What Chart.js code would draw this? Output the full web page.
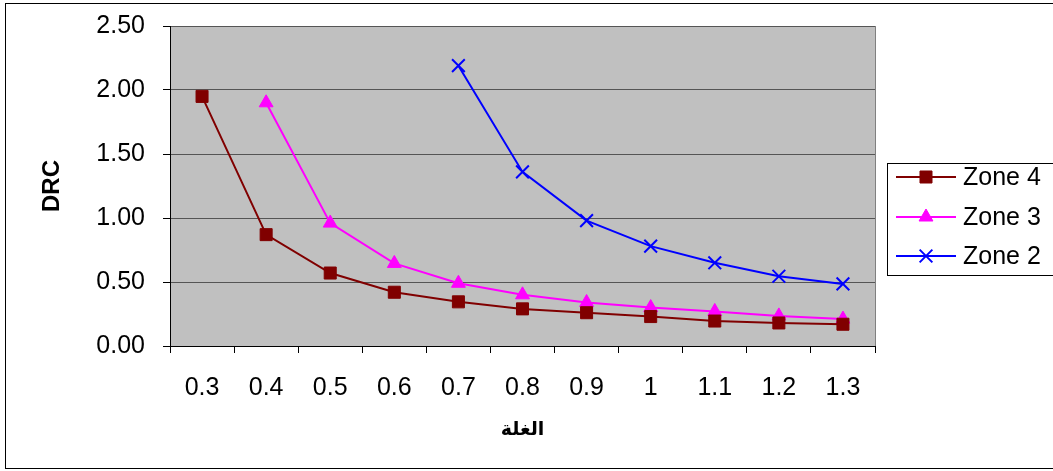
<!DOCTYPE html>
<html>
<head>
<meta charset="utf-8">
<script src="https://cdn.jsdelivr.net/npm/chart.js@4.4.0/dist/chart.umd.min.js"></script>
<style>
  html, body { margin: 0; padding: 0; background: #fff; }
  #wrap { width: 1053px; height: 471px; }
</style>
</head>
<body>
<div id="wrap"><canvas id="drcChart" width="1053" height="471"></canvas></div>
<script>
const categories = ["0.3", "0.4", "0.5", "0.6", "0.7", "0.8", "0.9", "1", "1.1", "1.2", "1.3"];
const zone4 = [1.95, 0.87, 0.57, 0.42, 0.345, 0.29, 0.26, 0.23, 0.195, 0.18, 0.17];
const zone3 = [null, 1.90, 0.96, 0.645, 0.49, 0.40, 0.34, 0.30, 0.27, 0.235, 0.21];
const zone2 = [null, null, null, null, 2.19, 1.36, 0.98, 0.78, 0.65, 0.545, 0.485];
const yTicks = [0, 0.5, 1, 1.5, 2, 2.5];

const FONT = "'Liberation Sans', Arial, 'DejaVu Sans', sans-serif";

// plot area background, frame and the outer chart border
const frame = {
  id: "frame",
  beforeDraw(chart) {
    const ctx = chart.ctx;
    const a = chart.chartArea;
    ctx.save();
    ctx.fillStyle = "#fff";
    ctx.fillRect(0, 0, chart.width, chart.height);
    ctx.strokeStyle = "#000";
    ctx.lineWidth = 1;
    ctx.strokeRect(5.5, 3.5, 1060, 465);
    ctx.fillStyle = "#c0c0c0";
    ctx.fillRect(a.left, a.top, a.right - a.left, a.bottom - a.top);
    ctx.restore();
  },
  afterDraw(chart) {
    const ctx = chart.ctx;
    const a = chart.chartArea;
    ctx.save();
    ctx.strokeStyle = "#808080";
    ctx.lineWidth = 1;
    ctx.beginPath();
    ctx.moveTo(Math.round(a.right) + 0.5, a.top);
    ctx.lineTo(Math.round(a.right) + 0.5, a.bottom);
    ctx.stroke();
    ctx.restore();
  }
};

// excel style legend: line + marker + label, in a box on the right
const sideLegend = {
  id: "sideLegend",
  afterDraw(chart) {
    const ctx = chart.ctx;
    ctx.save();
    ctx.fillStyle = "#fff";
    ctx.fillRect(887, 163, 170, 112);
    ctx.strokeStyle = "#000";
    ctx.lineWidth = 1;
    ctx.strokeRect(887.5, 163.5, 170, 112);
    const rows = [177, 217, 256];
    chart.data.datasets.forEach((ds, i) => {
      const y = rows[i];
      ctx.strokeStyle = ds.borderColor;
      ctx.fillStyle = ds.borderColor;
      ctx.lineWidth = 2;
      ctx.beginPath();
      ctx.moveTo(896, y);
      ctx.lineTo(956, y);
      ctx.stroke();
      ctx.lineWidth = ds.pointBorderWidth;
      Chart.helpers.drawPoint(ctx, {
        pointStyle: ds.pointStyle,
        radius: ds.pointRadius,
        borderWidth: ds.pointBorderWidth
      }, 926, y);
      ctx.fillStyle = "#000";
      ctx.font = "25px " + FONT;
      ctx.textBaseline = "middle";
      ctx.textAlign = "left";
      ctx.fillText(ds.label, 963, y + 1);
    });
    ctx.restore();
  }
};

function pointColors(ds) {
  return {
    pointBackgroundColor: ds.borderColor,
    pointBorderColor: ds.borderColor
  };
}

const datasets = [
  { label: "Zone 4", data: zone4, borderColor: "#800000", pointStyle: "rect", pointRadius: 8.5, pointBorderWidth: 1 },
  { label: "Zone 3", data: zone3, borderColor: "#ff00ff", pointStyle: "triangle", pointRadius: 8, pointBorderWidth: 1 },
  { label: "Zone 2", data: zone2, borderColor: "#0000ff", pointStyle: "crossRot", pointRadius: 9, pointBorderWidth: 2 }
].map(ds => Object.assign(ds, pointColors(ds), {
  borderWidth: 2,
  tension: 0,
  fill: false,
  pointHoverRadius: ds.pointRadius
}));

new Chart(document.getElementById("drcChart"), {
  type: "line",
  data: { labels: categories, datasets: datasets },
  options: {
    responsive: false,
    animation: false,
    events: [],
    layout: { padding: { left: 28, right: 178, top: 26, bottom: 20 } },
    plugins: {
      legend: { display: false },
      tooltip: { enabled: false }
    },
    scales: {
      x: {
        type: "category",
        offset: true,
        afterFit(scale) {
          scale.height = 471 - 346 - 20;
          scale.paddingLeft = 0;
          scale.paddingRight = 0;
        },
        grid: { offset: true, drawOnChartArea: false, drawTicks: true, tickLength: 7, tickColor: "#000" },
        border: { color: "#000", width: 1 },
        ticks: { color: "#000", font: { family: FONT, size: 25 }, padding: 20, maxRotation: 0, autoSkip: false },
        title: {
          display: true,
          text: "الغلة",
          color: "#000",
          font: { family: FONT, size: 19, weight: "bold" },
          padding: { top: 0, bottom: 10 }
        }
      },
      y: {
        min: 0,
        max: 2.5,
        afterFit(scale) {
          scale.width = 170 - 28;
          scale.paddingTop = 0;
          scale.paddingBottom = 0;
        },
        afterBuildTicks(scale) { scale.ticks = yTicks.map(v => ({ value: v })); },
        grid: { color: "#555", tickLength: 7, tickColor: "#000" },
        border: { color: "#000", width: 1 },
        ticks: {
          color: "#000",
          font: { family: FONT, size: 25 },
          padding: 18,
          callback: v => Number(v).toFixed(2)
        },
        title: {
          display: true,
          text: "DRC",
          color: "#000",
          font: { family: FONT, size: 24, weight: "bold" },
          padding: { top: 10, bottom: 0 }
        }
      }
    }
  },
  plugins: [frame, sideLegend]
});
</script>
</body>
</html>
